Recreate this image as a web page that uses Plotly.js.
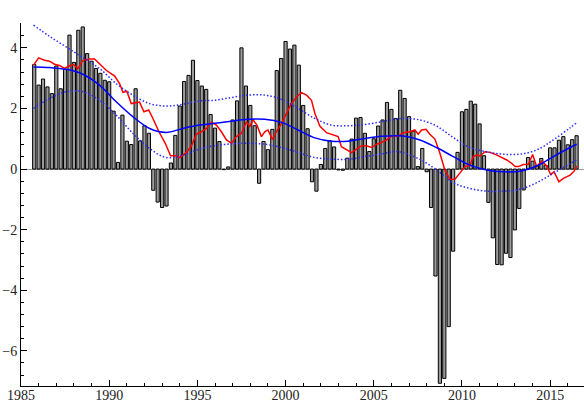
<!DOCTYPE html>
<html lang="en">

<head>
    <meta charset="utf-8">
    <title>Quarterly growth with trend</title>
    <script src="https://cdn.plot.ly/plotly-3.0.1.min.js"></script>
    <style>
        body,
        html {
            margin: 0;
            padding: 0;
            background: #fff;
        }

        #plot {
            width: 584px;
            height: 403px;
        }
    </style>
</head>

<body>
    <div id="plot"></div>

    <script>
        // First quarter shown and quarter step (years)
        const firstQuarter = 1985.75;
        const quarterStep = 0.25;

        // Quarterly values (bars)
        const barValues = [
            3.45, 2.77, 2.97, 2.71, 2.49, 3.40, 2.65, 3.30, 4.42, 3.52,
            4.58, 4.69, 3.81, 3.56, 3.32, 3.16, 2.93, 2.88, 1.91, 0.22,
            1.78, 0.92, 0.81, 2.65, 0.93, 1.43, 1.18, -0.70, -1.09, -1.27,
            -1.22, 0.20, 1.11, 2.08, 2.89, 3.09, 3.59, 2.92, 2.74, 2.63,
            1.80, 1.35, 0.91, -0.02, 0.07, 1.62, 2.25, 4.00, 2.74, 2.10,
            1.43, -0.47, 0.91, 0.64, 1.31, 3.25, 3.65, 4.21, 3.96, 4.09,
            3.43, 2.10, 1.33, -0.42, -0.73, 0.15, 0.68, 0.93, 0.73, -0.03,
            -0.04, 0.36, 0.99, 1.68, 1.70, 1.18, 0.58, 1.00, 1.42, 1.62,
            2.20, 1.97, 1.67, 2.60, 2.33, 1.73, 1.25, 0.08, 0.68, -0.09,
            -1.27, -3.53, -7.07, -6.91, -5.20, -2.71, 0.55, 1.89, 1.97, 2.24,
            2.14, 1.49, 0.44, -1.10, -2.27, -3.15, -3.16, -2.78, -2.92, -2.01,
            -1.30, -0.69, 0.38, 0.26, 0.12, 0.35, 0.12, 0.70, 0.70, 0.95,
            1.07, 0.80, 0.97, 1.10
        ];

        // Red line (moving average)
        const avgYears = [
            1985.71, 1986.0, 1986.33, 1986.62, 1986.9, 1987.18, 1987.47, 1987.75, 1987.98, 1988.22,
            1988.5, 1988.89, 1989.17, 1989.45, 1989.83, 1990.31, 1990.59, 1990.78, 1991.0, 1991.25,
            1991.54, 1991.72, 1991.97, 1992.24, 1992.48, 1992.82, 1993.18, 1993.48, 1993.75, 1994.0,
            1994.38, 1994.66, 1994.94, 1995.23, 1995.51, 1995.79, 1996.08, 1996.36, 1996.65, 1996.93,
            1997.21, 1997.5, 1997.78, 1997.97, 1998.16, 1998.38, 1998.63, 1998.82, 1999.0, 1999.26,
            1999.48, 1999.77, 2000.05, 2000.33, 2000.62, 2000.9, 2001.19, 2001.47, 2001.66, 2001.94,
            2002.32, 2002.7, 2002.98, 2003.17, 2003.46, 2003.74, 2004.02, 2004.31, 2004.59, 2004.87,
            2005.16, 2005.35, 2005.73, 2006.01, 2006.39, 2006.67, 2007.05, 2007.33, 2007.52, 2007.71,
            2007.96, 2008.18, 2008.47, 2008.75, 2009.03, 2009.32, 2009.6, 2009.89, 2010.17, 2010.45,
            2010.64, 2010.84, 2011.02, 2011.31, 2011.59, 2011.87, 2012.16, 2012.54, 2012.82, 2013.01,
            2013.2, 2013.48, 2013.76, 2014.01, 2014.24, 2014.52, 2014.81, 2015.03, 2015.22, 2015.5,
            2015.75, 2016.13, 2016.36, 2016.51
        ];
        const avgValues = [
            3.43, 3.67, 3.59, 3.56, 3.46, 3.42, 3.32, 3.41, 3.45, 3.31,
            3.58, 3.63, 3.63, 3.48, 3.26, 3.07, 2.82, 2.53, 2.57, 2.16,
            2.19, 2.21, 1.89, 1.95, 1.67, 1.23, 0.85, 0.44, 0.44, 0.38,
            0.55, 0.76, 1.15, 1.23, 1.34, 1.54, 1.45, 1.23, 0.96, 0.85,
            1.07, 1.18, 1.56, 1.40, 1.62, 1.45, 1.07, 1.23, 1.29, 0.98,
            1.23, 1.51, 1.84, 2.16, 2.38, 2.52, 2.44, 2.27, 1.84, 1.42,
            1.20, 1.12, 1.07, 0.74, 0.63, 0.54, 0.66, 0.77, 0.77, 0.71,
            0.82, 0.85, 0.96, 1.09, 1.09, 1.20, 1.23, 1.29, 1.15, 1.29,
            1.31, 1.15, 0.99, 0.52, -0.03, -0.34, -0.34, -0.12, 0.08, 0.12,
            0.41, 0.46, 0.43, 0.57, 0.55, 0.49, 0.41, 0.30, 0.19, 0.08,
            0.08, 0.15, 0.16, 0.48, 0.08, 0.26, 0.10, -0.18, -0.09, -0.42,
            -0.31, -0.20, -0.07, 0.10
        ];

        // Blue trend and its band
        const trendYears = [
            1985.71, 1986.62, 1987.56, 1988.5, 1989.45, 1990.4, 1991.34, 1992.29, 1993.23, 1994.18,
            1995.13, 1995.98, 1996.92, 1997.87, 1998.82, 1999.77, 2000.71, 2001.66, 2002.6, 2003.55,
            2004.5, 2005.44, 2006.2, 2006.67, 2007.62, 2008.56, 2009.51, 2010.45, 2011.4, 2012.35,
            2013.29, 2014.24, 2015.18, 2016.13, 2016.51
        ];
        const trendValues = [
            3.37, 3.35, 3.29, 3.13, 2.77, 2.22, 1.73, 1.34, 1.21, 1.34,
            1.45, 1.51, 1.58, 1.64, 1.64, 1.54, 1.29, 1.03, 0.92, 0.92,
            1.01, 1.08, 1.10, 1.09, 0.96, 0.71, 0.41, 0.13, -0.03, -0.09,
            -0.07, 0.10, 0.41, 0.71, 0.82
        ];
        const upperValues = [
            4.75, 4.38, 4.03, 3.68, 3.32, 2.82, 2.44, 2.16, 2.08, 2.14,
            2.25, 2.27, 2.36, 2.44, 2.44, 2.30, 2.00, 1.67, 1.45, 1.43,
            1.47, 1.56, 1.64, 1.67, 1.62, 1.42, 1.04, 0.71, 0.57, 0.49,
            0.49, 0.63, 0.96, 1.36, 1.53
        ];
        const lowerValues = [
            2.00, 2.33, 2.55, 2.55, 2.27, 1.78, 1.18, 0.68, 0.38, 0.46,
            0.66, 0.77, 0.83, 0.85, 0.82, 0.71, 0.55, 0.38, 0.33, 0.32,
            0.41, 0.50, 0.58, 0.54, 0.32, -0.03, -0.45, -0.64, -0.73, -0.73,
            -0.67, -0.45, -0.14, 0.18, 0.30
        ];

        const xTickVals = [1985, 1990, 1995, 2000, 2005, 2010, 2015];
        const yTickVals = [-6, -4, -2, 0, 2, 4];

        const barYears = barValues.map(function (v, i) {
            return firstQuarter + quarterStep * i;
        });

        const bars = {
            type: "bar",
            x: barYears,
            y: barValues,
            width: 0.18,
            marker: {
                color: "#9c9c9c",
                line: { color: "#000", width: 1 }
            }
        };
        const avg = {
            type: "scatter",
            mode: "lines",
            x: avgYears,
            y: avgValues,
            line: { color: "#ff0000", width: 1.5 }
        };
        const trend = {
            type: "scatter",
            mode: "lines",
            x: trendYears,
            y: trendValues,
            line: { color: "#0000ff", width: 1.5, shape: "spline" }
        };
        const bandLine = { color: "#2a2aff", width: 1.5, dash: "1.5px,2px", shape: "spline" };
        const upper = {
            type: "scatter",
            mode: "lines",
            x: trendYears,
            y: upperValues,
            line: bandLine
        };
        const lower = {
            type: "scatter",
            mode: "lines",
            x: trendYears,
            y: lowerValues,
            line: bandLine
        };

        const layout = {
            width: 584,
            height: 403,
            margin: { l: 21, r: 0, t: 23, b: 17 },
            paper_bgcolor: "#fff",
            plot_bgcolor: "#fff",
            showlegend: false,
            hovermode: false,
            font: { family: "Liberation Serif, Times New Roman, serif", size: 14, color: "#222" },
            xaxis: {
                range: [1985, 2016.92],
                tickvals: xTickVals,
                ticks: "inside",
                ticklen: 6,
                tickcolor: "#000",
                ticklabelstandoff: -4,
                showline: true,
                linecolor: "#000",
                linewidth: 1,
                showgrid: false,
                zeroline: false,
                minor: { dtick: 1, tick0: 1985, ticks: "inside", ticklen: 3, tickcolor: "#000", showgrid: false }
            },
            yaxis: {
                range: [-7.16, 4.82],
                tickvals: yTickVals,
                ticks: "inside",
                ticklen: 6,
                tickcolor: "#000",
                showline: true,
                linecolor: "#000",
                linewidth: 1,
                showgrid: false,
                zeroline: true,
                zerolinecolor: "#999",
                zerolinewidth: 1,
                minor: { dtick: 0.4, tick0: 0, ticks: "inside", ticklen: 3, tickcolor: "#000", showgrid: false }
            }
        };

        Plotly.newPlot("plot", [bars, avg, trend, upper, lower], layout, { staticPlot: true });
    </script>
</body>

</html>
